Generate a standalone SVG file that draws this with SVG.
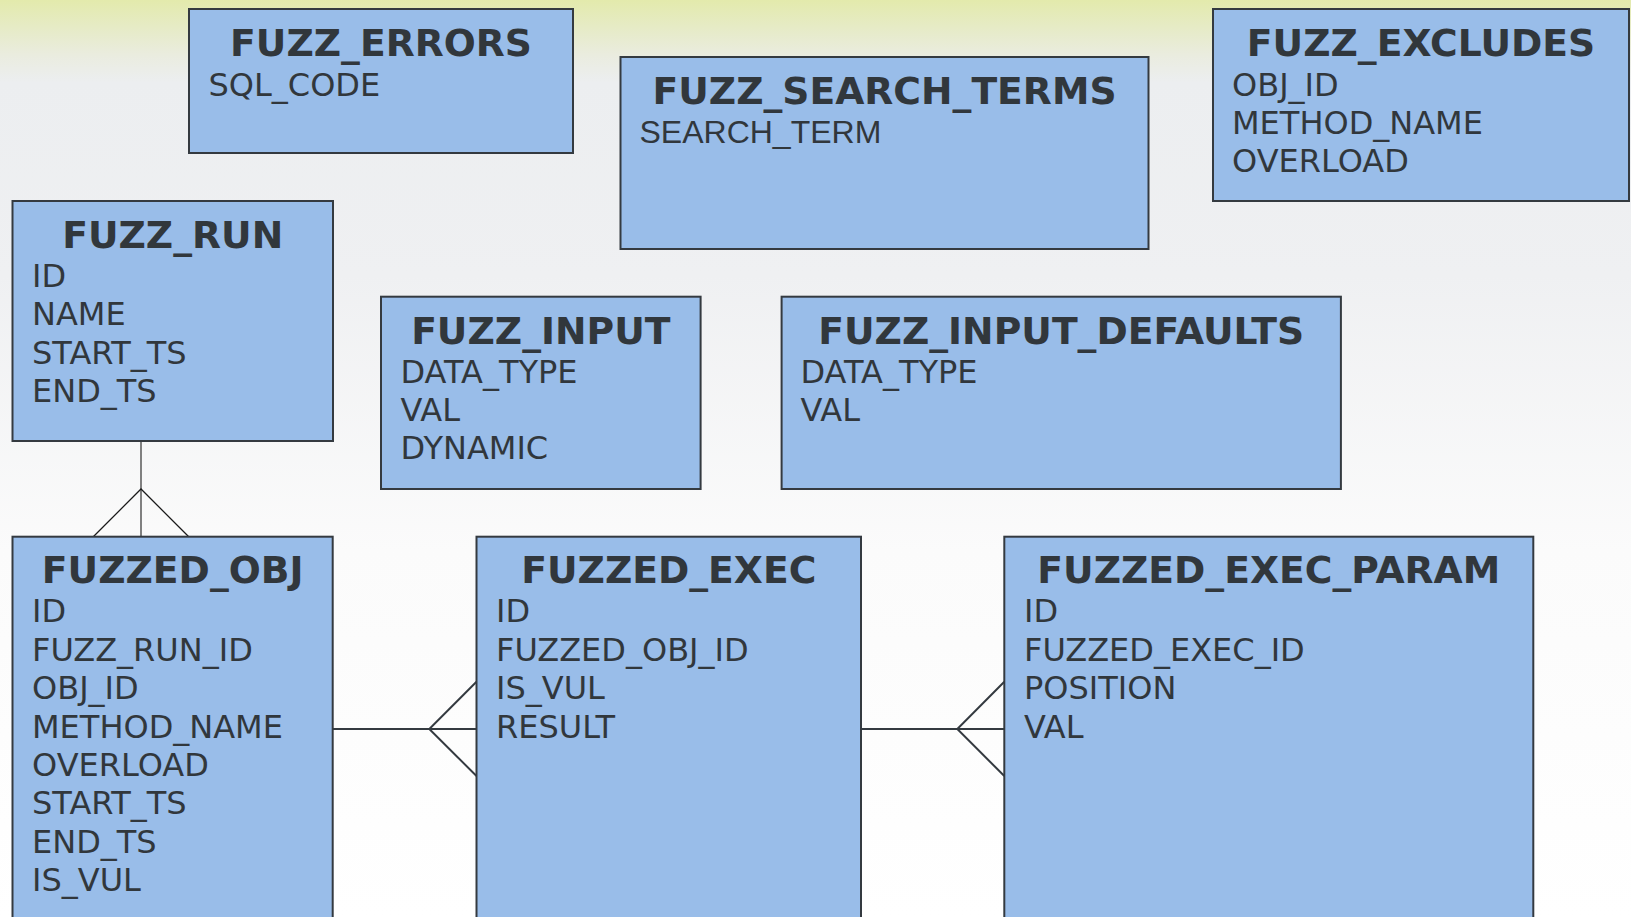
<svg xmlns="http://www.w3.org/2000/svg" width="1631" height="917" viewBox="0 0 1631 917">
<defs>
<linearGradient id="bg" x1="0" y1="0" x2="0" y2="1">
<stop offset="0" stop-color="#e3eaac"/>
<stop offset="0.03" stop-color="#e6ebc6"/>
<stop offset="0.06" stop-color="#eaecdf"/>
<stop offset="0.09" stop-color="#eceef0"/>
<stop offset="0.3" stop-color="#eff0f2"/>
<stop offset="0.6" stop-color="#fbfbfb"/>
<stop offset="1" stop-color="#ffffff"/>
</linearGradient>
<style>
.box{fill:#99bde9;stroke:#343a40;stroke-width:2}
.t{font-family:"DejaVu Sans",sans-serif;font-weight:bold;font-size:37.7px;fill:#31373c;text-anchor:middle}
.b{font-family:"DejaVu Sans",sans-serif;font-size:32px;fill:#31373c}
.a{font-family:"Liberation Sans",Arial,sans-serif;font-size:32px;fill:#31373c}
.rel{stroke:#343a40;stroke-width:2;fill:none}
.stem{stroke:#808080;stroke-width:2;fill:none}
.crow{stroke:#1a1a1a;stroke-width:1.3;fill:none}
</style>
</defs>
<rect x="0" y="0" width="1631" height="917" fill="url(#bg)"/>

<g id="connectors">
<line class="stem" x1="141" y1="441" x2="141" y2="537"/>
<polyline class="crow" points="93,537 141,489 189,537"/>
<line class="rel" x1="333" y1="729" x2="476.5" y2="729"/>
<polyline class="rel" points="476.5,681.7 429.3,729 476.5,776"/>
<line class="rel" x1="861" y1="729" x2="1004.3" y2="729"/>
<polyline class="rel" points="1004.3,681.7 957.3,729 1004.3,776"/>
</g>

<g id="FUZZ_ERRORS">
<rect class="box" x="189" y="9" width="384" height="144"/>
<text class="t" x="381" y="56">FUZZ_ERRORS</text>
<text class="b" x="208.5" y="95.5">SQL_CODE</text>
</g>

<g id="FUZZ_SEARCH_TERMS">
<rect class="box" x="620.5" y="57" width="528" height="192"/>
<text class="t" x="884.5" y="104">FUZZ_SEARCH_TERMS</text>
<text class="a" x="639.5" y="143">SEARCH_TERM</text>
</g>

<g id="FUZZ_EXCLUDES">
<rect class="box" x="1213" y="9" width="416" height="192"/>
<text class="t" x="1421" y="56">FUZZ_EXCLUDES</text>
<text class="b" x="1232" y="95.5">OBJ_ID</text>
<text class="b" x="1232" y="134">METHOD_NAME</text>
<text class="b" x="1232" y="172">OVERLOAD</text>
</g>

<g id="FUZZ_RUN">
<rect class="box" x="12.5" y="201" width="320.5" height="240"/>
<text class="t" x="172.7" y="247.7">FUZZ_RUN</text>
<text class="b" x="32" y="286.7">ID</text>
<text class="b" x="32" y="325">NAME</text>
<text class="b" x="32" y="363.5">START_TS</text>
<text class="b" x="32" y="402">END_TS</text>
</g>

<g id="FUZZ_INPUT">
<rect class="box" x="381" y="296.7" width="319.6" height="192.3"/>
<text class="t" x="540.8" y="343.5">FUZZ_INPUT</text>
<text class="b" x="400.5" y="382.5">DATA_TYPE</text>
<text class="b" x="400.5" y="421">VAL</text>
<text class="b" x="400.5" y="459.3">DYNAMIC</text>
</g>

<g id="FUZZ_INPUT_DEFAULTS">
<rect class="box" x="781.6" y="296.7" width="559.3" height="192.3"/>
<text class="t" x="1061.2" y="343.5">FUZZ_INPUT_DEFAULTS</text>
<text class="b" x="800.5" y="382.5">DATA_TYPE</text>
<text class="b" x="800.5" y="421">VAL</text>
</g>

<g id="FUZZED_OBJ">
<rect class="box" x="12.5" y="536.7" width="320.2" height="400"/>
<text class="t" x="172.7" y="583.3">FUZZED_OBJ</text>
<text class="b" x="32" y="622.3">ID</text>
<text class="b" x="32" y="660.7">FUZZ_RUN_ID</text>
<text class="b" x="32" y="699.1">OBJ_ID</text>
<text class="b" x="32" y="737.5">METHOD_NAME</text>
<text class="b" x="32" y="775.9">OVERLOAD</text>
<text class="b" x="32" y="814.3">START_TS</text>
<text class="b" x="32" y="852.7">END_TS</text>
<text class="b" x="32" y="891">IS_VUL</text>
</g>

<g id="FUZZED_EXEC">
<rect class="box" x="476.5" y="536.7" width="384.5" height="400"/>
<text class="t" x="668.8" y="583.3">FUZZED_EXEC</text>
<text class="b" x="496" y="622.3">ID</text>
<text class="b" x="496" y="660.7">FUZZED_OBJ_ID</text>
<text class="b" x="496" y="699.1">IS_VUL</text>
<text class="b" x="496" y="737.5">RESULT</text>
</g>

<g id="FUZZED_EXEC_PARAM">
<rect class="box" x="1004.3" y="536.7" width="529" height="400"/>
<text class="t" x="1268.8" y="583.3">FUZZED_EXEC_PARAM</text>
<text class="b" x="1024" y="622.3">ID</text>
<text class="b" x="1024" y="660.7">FUZZED_EXEC_ID</text>
<text class="b" x="1024" y="699.1">POSITION</text>
<text class="b" x="1024" y="737.5">VAL</text>
</g>
</svg>
